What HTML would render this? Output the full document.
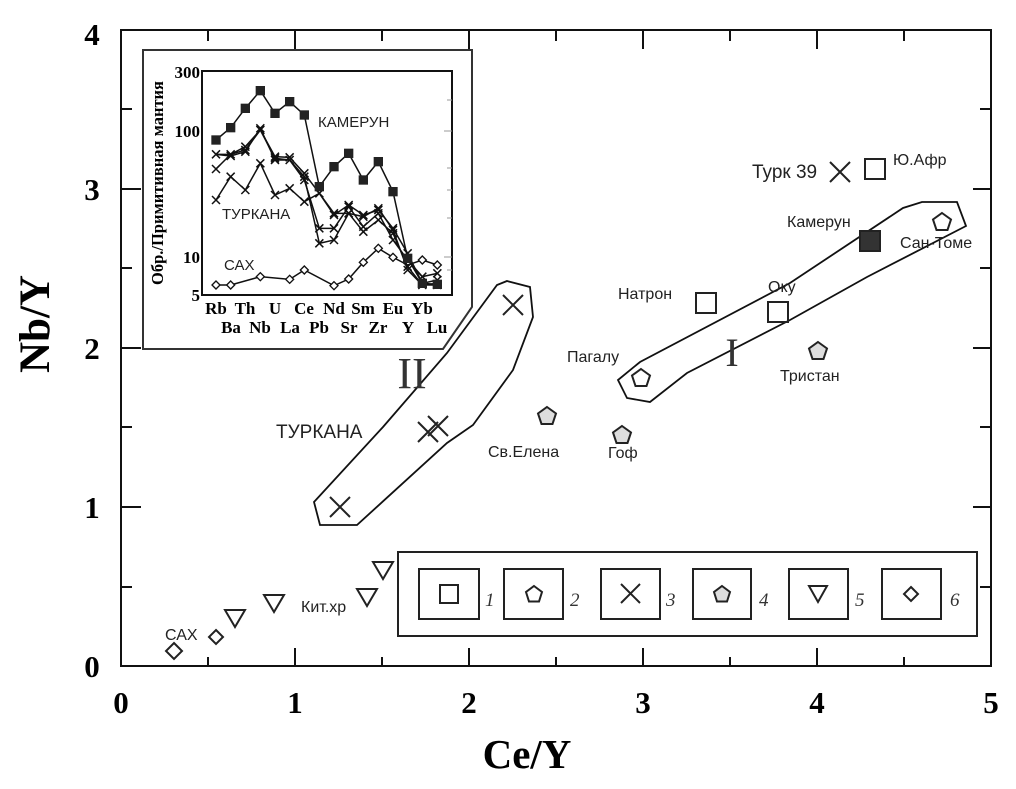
<!DOCTYPE html>
<html><head><meta charset="utf-8"><style>
html,body{margin:0;padding:0;background:#fff;}
svg{display:block;}
.s{font-family:"Liberation Sans",sans-serif;fill:#222;}
.b{font-family:"Liberation Serif",serif;font-weight:bold;fill:#000;}
</style></head><body>
<svg width="1016" height="789" viewBox="0 0 1016 789" xmlns="http://www.w3.org/2000/svg">
<defs>
<rect id="sq" x="-14" y="-14" width="28" height="28" fill="#222"/>
<path id="xm" d="M-12,-12L12,12M12,-12L-12,12" fill="none" stroke="#111" stroke-width="4.5"/>
<path id="dm" d="M0,-12L12,0L0,12L-12,0Z" fill="#fff" stroke="#111" stroke-width="4"/>
</defs>
<rect width="1016" height="789" fill="#fff"/>
<rect x="121" y="30" width="870" height="636" fill="none" stroke="#111" stroke-width="2"/>
<g stroke="#111" stroke-width="2">
<line x1="121" y1="109" x2="132" y2="109"/><line x1="121" y1="189" x2="141" y2="189"/>
<line x1="121" y1="268" x2="132" y2="268"/><line x1="121" y1="348" x2="141" y2="348"/>
<line x1="121" y1="427" x2="132" y2="427"/><line x1="121" y1="507" x2="141" y2="507"/>
<line x1="121" y1="587" x2="132" y2="587"/>
<line x1="991" y1="109" x2="980" y2="109"/><line x1="991" y1="189" x2="973" y2="189"/>
<line x1="991" y1="268" x2="980" y2="268"/><line x1="991" y1="348" x2="973" y2="348"/>
<line x1="991" y1="427" x2="980" y2="427"/><line x1="991" y1="507" x2="973" y2="507"/>
<line x1="991" y1="587" x2="980" y2="587"/>
<line x1="208" y1="666" x2="208" y2="657"/><line x1="295" y1="666" x2="295" y2="648"/>
<line x1="382" y1="666" x2="382" y2="657"/><line x1="469" y1="666" x2="469" y2="648"/>
<line x1="556" y1="666" x2="556" y2="657"/><line x1="643" y1="666" x2="643" y2="648"/>
<line x1="730" y1="666" x2="730" y2="657"/><line x1="817" y1="666" x2="817" y2="648"/>
<line x1="904" y1="666" x2="904" y2="657"/>
<line x1="208" y1="30" x2="208" y2="41"/><line x1="295" y1="30" x2="295" y2="49"/>
<line x1="382" y1="30" x2="382" y2="41"/><line x1="469" y1="30" x2="469" y2="49"/>
<line x1="556" y1="30" x2="556" y2="41"/><line x1="643" y1="30" x2="643" y2="49"/>
<line x1="730" y1="30" x2="730" y2="41"/><line x1="817" y1="30" x2="817" y2="49"/>
<line x1="904" y1="30" x2="904" y2="41"/>
</g>
<g class="b" font-size="31" text-anchor="middle">
<text x="92" y="45">4</text><text x="92" y="200">3</text><text x="92" y="359">2</text>
<text x="92" y="518">1</text><text x="92" y="677">0</text>
<text x="121" y="713">0</text><text x="295" y="713">1</text><text x="469" y="713">2</text>
<text x="643" y="713">3</text><text x="817" y="713">4</text><text x="991" y="713">5</text>
</g>
<text class="b" font-size="41" text-anchor="middle" x="527" y="768">Ce/Y</text>
<text class="b" font-size="43" text-anchor="middle" transform="translate(49,324) rotate(-90)">Nb/Y</text>

<!-- inset -->
<path d="M143,50 L472,50 L472,307 L443,349 L143,349 Z" fill="#fff" stroke="#333" stroke-width="2"/>
<rect x="202" y="71" width="250" height="224" fill="none" stroke="#111" stroke-width="2"/>
<g stroke="#999" stroke-width="1">
<line x1="452" y1="100" x2="447" y2="100"/><line x1="452" y1="131" x2="444" y2="131"/>
<line x1="452" y1="168" x2="447" y2="168"/><line x1="452" y1="190" x2="447" y2="190"/>
<line x1="452" y1="218" x2="447" y2="218"/><line x1="452" y1="257" x2="444" y2="257"/>
<line x1="452" y1="270" x2="447" y2="270"/>
</g>
<g class="b" font-size="17" text-anchor="end">
<text x="200" y="78">300</text><text x="200" y="137">100</text>
<text x="200" y="263">10</text><text x="200" y="301">5</text>
</g>
<text class="b" font-size="16.5" text-anchor="middle" transform="translate(163,183) rotate(-90)">Обр./Примитивная мантия</text>
<g class="b" font-size="17" text-anchor="middle">
<text x="216" y="314">Rb</text><text x="245" y="314">Th</text><text x="275" y="314">U</text>
<text x="304" y="314">Ce</text><text x="334" y="314">Nd</text><text x="363" y="314">Sm</text>
<text x="393" y="314">Eu</text><text x="422" y="314">Yb</text>
<text x="231" y="333">Ba</text><text x="260" y="333">Nb</text><text x="290" y="333">La</text>
<text x="319" y="333">Pb</text><text x="349" y="333">Sr</text><text x="378" y="333">Zr</text>
<text x="408" y="333">Y</text><text x="437" y="333">Lu</text>
</g>
<g class="s" font-size="15">
<text x="318" y="127">КАМЕРУН</text><text x="222" y="219">ТУРКАНА</text><text x="224" y="270">САХ</text>
</g>
<g transform="translate(100,20) scale(0.33333)">
<g fill="none" stroke="#111" stroke-width="4.5">
<polyline points="348,360 392,323 436,265 481,212 525,280 569,245 613,285 658,500 702,440 746,400 790,480 835,425 879,515 923,715 967,790 1012,793"/>
<polyline points="348,403 392,403 436,390 481,330 525,410 569,412 613,460 658,520 702,585 746,555 790,585 835,570 879,625 923,700 967,790 1012,780"/>
<polyline points="348,403 392,408 436,395 481,325 525,420 569,420 613,480 658,625 702,625 746,560 790,620 835,580 879,660 923,720 967,770 1012,760"/>
<polyline points="348,447 392,403 436,380 481,330 525,415 569,420 613,470 658,670 702,660 746,580 790,635 835,600 879,640 923,740 967,795 1012,790"/>
<polyline points="348,540 392,470 436,510 481,430 525,525 569,505 613,545 658,520 702,580 746,580 790,590 835,565 879,630 923,750 967,795 1012,795"/>
<polyline points="348,795 392,795 481,770 569,778 613,750 702,797 746,777 790,727 835,685 879,712 923,735 967,720 1012,735"/>
</g>
<use href="#xm" x="348" y="403"/><use href="#xm" x="392" y="403"/><use href="#xm" x="436" y="390"/><use href="#xm" x="481" y="330"/><use href="#xm" x="525" y="410"/><use href="#xm" x="569" y="412"/><use href="#xm" x="613" y="460"/><use href="#xm" x="658" y="520"/><use href="#xm" x="702" y="585"/><use href="#xm" x="746" y="555"/><use href="#xm" x="790" y="585"/><use href="#xm" x="835" y="570"/><use href="#xm" x="879" y="625"/><use href="#xm" x="923" y="700"/><use href="#xm" x="967" y="790"/><use href="#xm" x="1012" y="780"/>
<use href="#xm" x="392" y="408"/><use href="#xm" x="436" y="395"/><use href="#xm" x="481" y="325"/><use href="#xm" x="525" y="420"/><use href="#xm" x="569" y="420"/><use href="#xm" x="613" y="480"/><use href="#xm" x="658" y="625"/><use href="#xm" x="702" y="625"/><use href="#xm" x="746" y="560"/><use href="#xm" x="790" y="620"/><use href="#xm" x="835" y="580"/><use href="#xm" x="879" y="660"/><use href="#xm" x="923" y="720"/><use href="#xm" x="967" y="770"/><use href="#xm" x="1012" y="760"/>
<use href="#xm" x="348" y="447"/><use href="#xm" x="436" y="380"/><use href="#xm" x="525" y="415"/><use href="#xm" x="613" y="470"/><use href="#xm" x="658" y="670"/><use href="#xm" x="702" y="660"/><use href="#xm" x="746" y="580"/><use href="#xm" x="790" y="635"/><use href="#xm" x="835" y="600"/><use href="#xm" x="879" y="640"/><use href="#xm" x="923" y="740"/><use href="#xm" x="967" y="795"/>
<use href="#xm" x="348" y="540"/><use href="#xm" x="392" y="470"/><use href="#xm" x="436" y="510"/><use href="#xm" x="481" y="430"/><use href="#xm" x="525" y="525"/><use href="#xm" x="569" y="505"/><use href="#xm" x="613" y="545"/><use href="#xm" x="702" y="580"/><use href="#xm" x="746" y="580"/><use href="#xm" x="790" y="590"/><use href="#xm" x="835" y="565"/><use href="#xm" x="879" y="630"/><use href="#xm" x="923" y="750"/><use href="#xm" x="1012" y="795"/>
<use href="#sq" x="348" y="360"/><use href="#sq" x="392" y="323"/><use href="#sq" x="436" y="265"/><use href="#sq" x="481" y="212"/><use href="#sq" x="525" y="280"/><use href="#sq" x="569" y="245"/><use href="#sq" x="613" y="285"/><use href="#sq" x="658" y="500"/><use href="#sq" x="702" y="440"/><use href="#sq" x="746" y="400"/><use href="#sq" x="790" y="480"/><use href="#sq" x="835" y="425"/><use href="#sq" x="879" y="515"/><use href="#sq" x="923" y="715"/><use href="#sq" x="967" y="790"/><use href="#sq" x="1012" y="793"/>
<use href="#dm" x="348" y="795"/><use href="#dm" x="392" y="795"/><use href="#dm" x="481" y="770"/><use href="#dm" x="569" y="778"/><use href="#dm" x="613" y="750"/><use href="#dm" x="702" y="797"/><use href="#dm" x="746" y="777"/><use href="#dm" x="790" y="727"/><use href="#dm" x="835" y="685"/><use href="#dm" x="879" y="712"/><use href="#dm" x="967" y="720"/><use href="#dm" x="1012" y="735"/>
</g>

<!-- groups -->
<path d="M507,281 L530,287 L533,317 L513,370 L473,425 L447,443 L357,525 L320,525 L314,502 L383,427 L447,353 L497,285 Z" fill="none" stroke="#111" stroke-width="1.8"/>
<path d="M922,202 L957,202 L966,226 L867,277 L790,320 L687,373 L650,402 L627,398 L618,380 L640,362 L790,283 L903,208 Z" fill="none" stroke="#111" stroke-width="1.8"/>
<text x="412" y="388" font-family="Liberation Serif,serif" font-size="44" text-anchor="middle" fill="#333">II</text>
<text x="732" y="366" font-family="Liberation Serif,serif" font-size="40" text-anchor="middle" fill="#333">I</text>

<!-- markers -->
<g stroke="#222" stroke-width="2" fill="none">
<rect x="865" y="159" width="20" height="20"/>
<rect x="696" y="293" width="20" height="20"/>
<rect x="768" y="302" width="20" height="20"/>
<rect x="860" y="231" width="20" height="20" fill="#333"/>
<path d="M830,162l20,20m0,-20l-20,20"/>
<path d="M418,422l20,20m0,-20l-20,20"/>
<path d="M428,416l20,20m0,-20l-20,20"/>
<path d="M330,497l20,20m0,-20l-20,20"/>
<path d="M503,295l20,20m0,-20l-20,20"/>
<path d="M942,213l9,6.5l-3.5,10.5h-11l-3.5,-10.5z"/>
<path d="M641,369l9,6.5l-3.5,10.5h-11l-3.5,-10.5z"/>
<path d="M818,342l9,6.5l-3.5,10.5h-11l-3.5,-10.5z" fill="#ddd"/>
<path d="M547,407l9,6.5l-3.5,10.5h-11l-3.5,-10.5z" fill="#ddd"/>
<path d="M622,426l9,6.5l-3.5,10.5h-11l-3.5,-10.5z" fill="#ddd"/>
<path d="M373,562h20l-10,17z"/>
<path d="M357,589h20l-10,17z"/>
<path d="M264,595h20l-10,17z"/>
<path d="M225,610h20l-10,17z"/>
<path d="M174,643l8,8l-8,8l-8,-8z"/>
<path d="M216,630l7,7l-7,7l-7,-7z"/>
</g>
<g class="s" font-size="16">
<text x="752" y="178" font-size="19">Турк 39</text>
<text x="893" y="165">Ю.Афр</text>
<text x="787" y="227">Камерун</text>
<text x="900" y="248">Сан-Томе</text>
<text x="618" y="299">Натрон</text>
<text x="768" y="292">Оку</text>
<text x="567" y="362">Пагалу</text>
<text x="780" y="381">Тристан</text>
<text x="276" y="438" font-size="19">ТУРКАНА</text>
<text x="488" y="457">Св.Елена</text>
<text x="608" y="458">Гоф</text>
<text x="301" y="612">Кит.хр</text>
<text x="165" y="640">САХ</text>
</g>

<!-- legend -->
<rect x="398" y="552" width="579" height="84" fill="#fff" stroke="#222" stroke-width="2"/>
<g stroke="#222" stroke-width="2" fill="none">
<rect x="419" y="569" width="60" height="50"/><rect x="504" y="569" width="59" height="50"/>
<rect x="601" y="569" width="59" height="50"/><rect x="693" y="569" width="58" height="50"/>
<rect x="789" y="569" width="59" height="50"/><rect x="882" y="569" width="59" height="50"/>
<rect x="440" y="585" width="18" height="18"/>
<path d="M534,586l8,6l-3,9.5h-10l-3,-9.5z"/>
<path d="M621,584l19,19m0,-19l-19,19"/>
<path d="M722,586l8,6l-3,9.5h-10l-3,-9.5z" fill="#ddd"/>
<path d="M809,586h18l-9,16z"/>
<path d="M911,587l7,7l-7,7l-7,-7z"/>
</g>
<g font-family="Liberation Serif,serif" font-style="italic" font-size="19" fill="#333">
<text x="485" y="606">1</text><text x="570" y="606">2</text><text x="666" y="606">3</text>
<text x="759" y="606">4</text><text x="855" y="606">5</text><text x="950" y="606">6</text>
</g>
</svg>
</body></html>
